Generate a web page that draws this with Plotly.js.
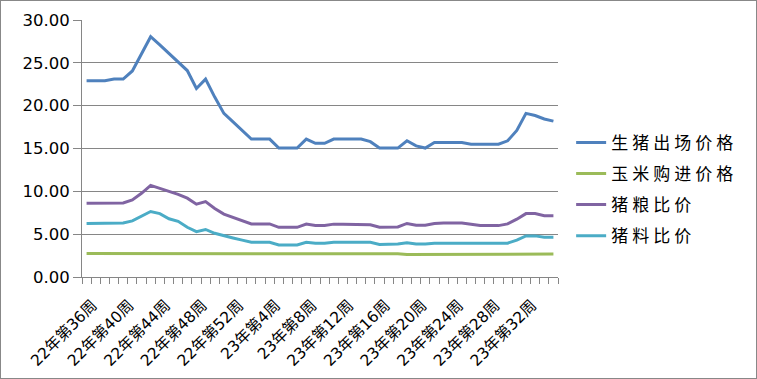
<!DOCTYPE html>
<html>
<head>
<meta charset="utf-8">
<script src="https://cdn.plot.ly/plotly-3.0.1.min.js"></script>
<style>
body{margin:0;padding:0;background:#fff;}
#wrap{position:relative;width:757px;height:379px;}
#chart{width:757px;height:379px;}
#frame{position:absolute;left:0;top:0;width:755px;height:377px;border:1px solid #888;pointer-events:none;}
.legendtext{letter-spacing:4px;}
</style>
</head>
<body>
<div id="wrap"><div id="chart"></div><div id="frame"></div></div>
<script>
const categories = [
 '22年第36周','22年第37周','22年第38周','22年第39周','22年第40周','22年第41周','22年第42周','22年第43周',
 '22年第44周','22年第45周','22年第46周','22年第47周','22年第48周','22年第49周','22年第50周','22年第51周',
 '22年第52周','23年第1周','23年第2周','23年第3周','23年第4周','23年第5周','23年第6周','23年第7周',
 '23年第8周','23年第9周','23年第10周','23年第11周','23年第12周','23年第13周','23年第14周','23年第15周',
 '23年第16周','23年第17周','23年第18周','23年第19周','23年第20周','23年第21周','23年第22周','23年第23周',
 '23年第24周','23年第25周','23年第26周','23年第27周','23年第28周','23年第29周','23年第30周','23年第31周',
 '23年第32周','23年第33周','23年第34周','23年第35周'
];
const tickLabels = ['22年第36周','22年第40周','22年第44周','22年第48周','22年第52周','23年第4周','23年第8周',
 '23年第12周','23年第16周','23年第20周','23年第24周','23年第28周','23年第32周'];
const seriesNames = ['生猪出场价格','玉米购进价格','猪粮比价','猪料比价'];
const hogPrice = [22.9,22.9,22.9,23.1,23.1,24.05,26.1,28.05,27.1,26.1,25.1,24.1,22.0,23.1,21.0,19.1,18.1,17.1,16.1,16.1,16.1,15.05,15.05,15.05,16.1,15.6,15.6,16.1,16.1,16.1,16.1,15.8,15.05,15.05,15.05,15.9,15.3,15.05,15.7,15.7,15.7,15.7,15.5,15.5,15.5,15.5,15.9,17.1,19.1,18.85,18.45,18.2];
const cornPrice = [2.75,2.75,2.75,2.75,2.75,2.75,2.75,2.75,2.7,2.7,2.7,2.7,2.7,2.7,2.7,2.7,2.7,2.7,2.7,2.7,2.7,2.7,2.7,2.7,2.7,2.7,2.7,2.7,2.7,2.7,2.7,2.7,2.7,2.7,2.7,2.62,2.62,2.62,2.62,2.62,2.62,2.62,2.62,2.62,2.62,2.68,2.68,2.68,2.68,2.68,2.68,2.68];
const hogGrainRatio = [8.6,8.6,8.6,8.6,8.65,9.0,9.77,10.7,10.35,10.0,9.65,9.2,8.5,8.8,8.0,7.35,6.95,6.56,6.2,6.2,6.2,5.8,5.8,5.8,6.17,6.0,6.0,6.17,6.17,6.17,6.17,6.1,5.8,5.8,5.85,6.25,6.05,6.05,6.25,6.3,6.3,6.3,6.15,6.0,6.0,6.0,6.2,6.75,7.4,7.4,7.15,7.15];
const hogFeedRatio = [6.25,6.25,6.25,6.25,6.3,6.55,7.1,7.65,7.4,6.8,6.5,5.8,5.3,5.55,5.1,4.8,4.55,4.3,4.05,4.05,4.05,3.75,3.75,3.75,4.05,3.95,3.95,4.05,4.05,4.05,4.05,4.05,3.8,3.8,3.85,4.0,3.85,3.85,3.95,3.95,3.95,3.95,3.9,3.9,3.9,3.9,3.95,4.3,4.8,4.8,4.65,4.65];
const colors = ['#4F81BD','#9BBB59','#8064A2','#4BACC6'];
const allSeries = [hogPrice, cornPrice, hogGrainRatio, hogFeedRatio];

const traces = allSeries.map((vals, i) => ({
  type: 'scatter', mode: 'lines', x: categories, y: vals, name: seriesNames[i],
  legendgroup: 'g' + i,
  line: {color: colors[i], width: 3}
}));

const ticktext = categories.map(c => tickLabels.includes(c) ? c : '');

const layout = {
  width: 757, height: 379,
  margin: {l: 82, r: 199, t: 20, b: 102},
  paper_bgcolor: '#fff', plot_bgcolor: '#fff',
  showlegend: true,
  legend: {x: 1.0276, xanchor: 'left', y: 0.592, yanchor: 'top', traceorder: 'grouped', tracegroupgap: 6,
    font: {family: 'Noto Sans CJK SC', size: 17, color: '#000'}, bgcolor: 'rgba(0,0,0,0)'},
  xaxis: {
    type: 'category', tickmode: 'array', tickvals: categories, ticktext: ticktext,
    tickson: 'boundaries', ticks: 'outside', ticklen: 6, tickcolor: '#868686', tickwidth: 1,
    showline: true, linecolor: '#868686', linewidth: 1, showgrid: false, zeroline: false,
    tickangle: -45, tickfont: {family: 'DejaVu Sans, Noto Sans CJK SC', size: 15.5, color: '#000'},
    ticklabelstandoff: 12, ticklabelshift: 6,
    range: [-0.5, 51.5]
  },
  yaxis: {
    range: [0, 30], dtick: 5, tickformat: '.2f', ticks: 'outside', ticklen: 8, tickcolor: '#868686',
    showline: true, linecolor: '#868686', linewidth: 1, showgrid: true, gridcolor: '#868686', gridwidth: 1,
    zeroline: false, tickfont: {family: 'DejaVu Sans', size: 16.5, color: '#000'}
  }
};
Plotly.newPlot('chart', traces, layout, {displayModeBar: false, staticPlot: true});
</script>
</body>
</html>
